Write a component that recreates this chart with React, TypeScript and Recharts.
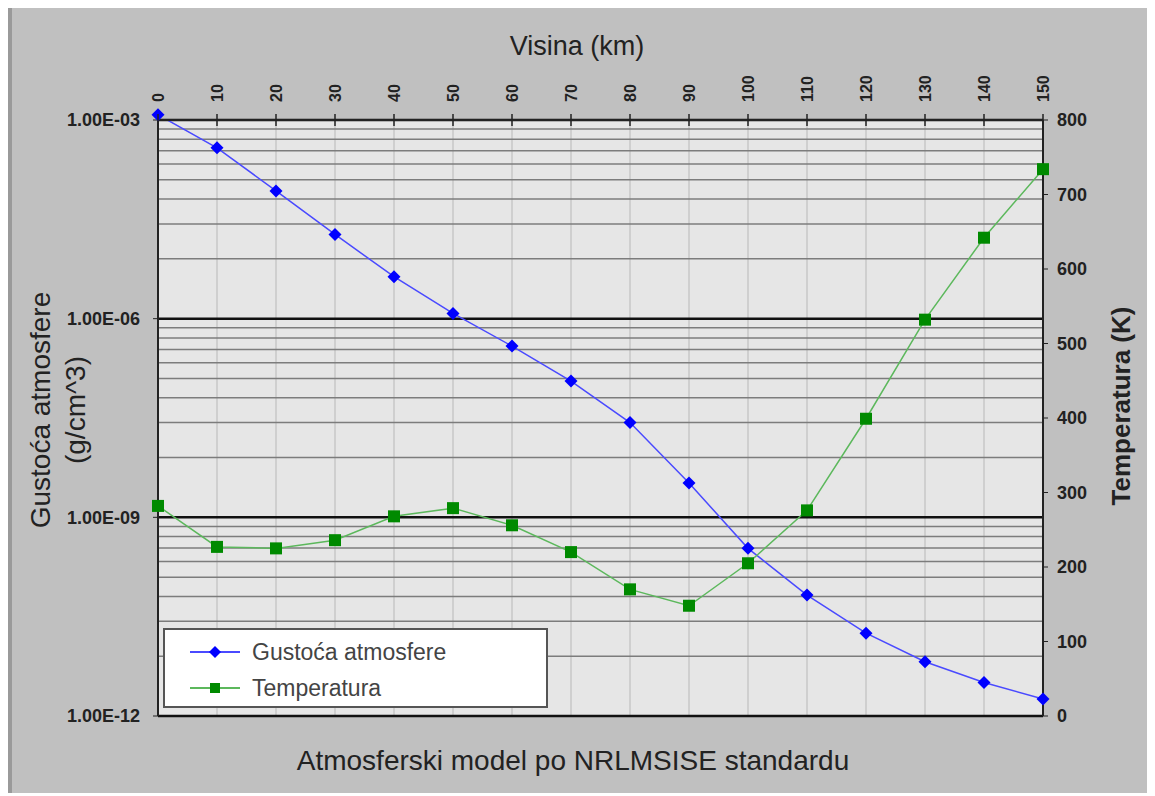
import React from 'react';
import {
  LineChart,
  Line,
  XAxis,
  YAxis,
  CartesianGrid,
  ReferenceLine,
  ReferenceDot,
  Legend,
} from 'recharts';

// ---------- data ----------
const altitudes = [0, 10, 20, 30, 40, 50, 60, 70, 80, 90, 100, 110, 120, 130, 140, 150];
const density = [
  1.2e-3, 3.8e-4, 8.5e-5, 1.87e-5, 4.3e-6, 1.2e-6, 3.85e-7, 1.14e-7, 2.7e-8, 3.3e-9,
  3.4e-10, 6.7e-11, 1.78e-11, 6.6e-12, 3.2e-12, 1.8e-12,
];
const temperature = [282, 227, 225, 236, 268, 279, 256, 220, 170, 148, 205, 276, 399, 532, 642, 734];

const densityTicks = [1e-12, 1e-9, 1e-6, 1e-3];
const temperatureTicks = [0, 100, 200, 300, 400, 500, 600, 700, 800];
const minorBases = [1e-12, 1e-9, 1e-6];
const minorMultipliers = [8, 27, 64, 125, 216, 343, 512, 729];

const densityName = 'Gustoća atmosfere';
const temperatureName = 'Temperatura';

const data = altitudes.map((a, i) => ({ alt: a, density: density[i], temperature: temperature[i] }));
const minorLines = minorBases.flatMap((b) => minorMultipliers.map((m) => b * m));

// ---------- styling ----------
const FONT = '"Liberation Sans", Arial, Helvetica, sans-serif';
const BLUE_LINE = '#4a4aff';
const BLUE_MARK = '#0000ff';
const GREEN_LINE = '#5cb85c';
const GREEN_MARK = '#008a00';
const TEXT = '#222';

const fmtExp = (v: number) => {
  const e = Math.round(Math.log10(v));
  const m = v / Math.pow(10, e);
  const sign = e < 0 ? '-' : '+';
  const abs = Math.abs(e);
  return `${m.toFixed(2)}E${sign}${abs < 10 ? '0' + abs : abs}`;
};

const TopTick = (props: any) => {
  const { x, y, payload } = props;
  return (
    <g>
      <line x1={x} x2={x} y1={y + 12} y2={y + 24} stroke="#222" strokeWidth={1.5} />
      <text
        x={x}
        y={y}
        transform={`rotate(-90, ${x}, ${y})`}
        textAnchor="start"
        dy="0.36em"
        fontSize={16}
        fontWeight="bold"
        fill={TEXT}
        fontFamily={FONT}
      >
        {payload.value}
      </text>
    </g>
  );
};

const Diamond = (props: any) => {
  const { cx, cy } = props;
  if (cx == null || cy == null) return null;
  const s = 6.5;
  return <path d={`M${cx},${cy - s}L${cx + s},${cy}L${cx},${cy + s}L${cx - s},${cy}Z`} fill={BLUE_MARK} />;
};

const Square = (props: any) => {
  const { cx, cy, index } = props;
  if (cx == null || cy == null) return null;
  const s = 6;
  return <rect key={`sq-${index}`} x={cx - s} y={cy - s} width={2 * s} height={2 * s} fill={GREEN_MARK} />;
};

const TitlesX = () => (
  <g fontFamily={FONT} fill={TEXT}>
    <text x={569} y={47} textAnchor="middle" fontSize={27} fill={TEXT}>
      Visina (km)
    </text>
    <text x={565} y={762} textAnchor="middle" fontSize={28} fill={TEXT}>
      Atmosferski model po NRLMSISE standardu
    </text>
  </g>
);

const TitleLeft = () => (
  <g fontFamily={FONT}>
    <text
      x={32}
      y={402}
      transform="rotate(-90, 32, 402)"
      textAnchor="middle"
      dominantBaseline="central"
      fontSize={28}
      fill={TEXT}
    >
      Gustoća atmosfere
    </text>
    <text
      x={67}
      y={402}
      transform="rotate(-90, 67, 402)"
      textAnchor="middle"
      dominantBaseline="central"
      fontSize={28}
      fill={TEXT}
    >
      (g/cm^3)
    </text>
  </g>
);

const TitleRight = () => (
  <text
    x={1113}
    y={398}
    transform="rotate(-90, 1113, 398)"
    textAnchor="middle"
    dominantBaseline="central"
    fontSize={26}
    fontWeight="bold"
    fill={TEXT}
    fontFamily={FONT}
  >
    Temperatura (K)
  </text>
);

const LegendBox = (props: any) => {
  const items: any[] = props.payload || [];
  return (
    <div
      style={{
        position: 'relative',
        width: 385,
        height: 80,
        boxSizing: 'border-box',
        background: '#fff',
        border: '2px solid #555',
        fontFamily: FONT,
      }}
    >
      {items.map((it, i) => {
        const isDensity = it.dataKey === 'density';
        const cy = i === 0 ? 22 : 58;
        return (
          <div key={i}>
            <svg
              width={70}
              height={20}
              style={{ position: 'absolute', left: 20, top: cy - 10 }}
            >
              <line x1={5} x2={55} y1={10} y2={10} stroke={isDensity ? BLUE_LINE : GREEN_LINE} strokeWidth={2} />
              {isDensity ? (
                <path d="M30,4L36,10L30,16L24,10Z" fill={BLUE_MARK} />
              ) : (
                <rect x={25} y={5} width={10} height={10} fill={GREEN_MARK} />
              )}
            </svg>
            <span
              style={{
                position: 'absolute',
                left: 87,
                top: cy - 14,
                fontSize: 23,
                lineHeight: '28px',
                color: '#444',
                whiteSpace: 'nowrap',
              }}
            >
              {it.value}
            </span>
          </div>
        );
      })}
    </div>
  );
};

export default function App() {
  return (
    <div style={{ position: 'relative', width: 1147, height: 785, background: '#c0c0c0' }}>
      <div style={{ position: 'absolute', left: 0, top: 0, width: 4, height: 785, background: '#9a9a9a' }} />
      <div style={{ position: 'absolute', left: 0, top: 0 }}>
        <LineChart
          width={1147}
          height={785}
          data={data}
          margin={{ top: 62, right: 0, bottom: 77, left: 0 }}
        >
          <CartesianGrid
            yAxisId="left"
            horizontal={false}
            vertical
            stroke="#b8b8b8"
            strokeWidth={1}
            fill="#e6e6e6"
            fillOpacity={1}
          />
          <XAxis
            dataKey="alt"
            type="number"
            orientation="top"
            domain={[0, 150]}
            ticks={altitudes}
            interval={0}
            height={50}
            tickSize={6}
            tickMargin={12}
            tickLine={false}
            axisLine={{ stroke: '#222', strokeWidth: 2 }}
            tick={<TopTick />}
            label={TitlesX}
          />
          <YAxis
            yAxisId="left"
            scale="log"
            domain={[1e-12, 1e-3]}
            allowDataOverflow
            ticks={densityTicks}
            interval={0}
            tickFormatter={fmtExp}
            width={150}
            tickSize={5}
            tickMargin={13}
            tickLine={{ stroke: '#222' }}
            axisLine={{ stroke: '#222', strokeWidth: 2 }}
            tick={{ fontSize: 18, fontWeight: 'bold', fill: TEXT, fontFamily: FONT }}
            label={TitleLeft}
          />
          <YAxis
            yAxisId="right"
            orientation="right"
            domain={[0, 800]}
            ticks={temperatureTicks}
            interval={0}
            width={112}
            tickSize={5}
            tickMargin={9}
            tickLine={{ stroke: '#222' }}
            axisLine={{ stroke: '#222', strokeWidth: 2 }}
            tick={{ fontSize: 18, fontWeight: 600, fill: TEXT, fontFamily: FONT }}
            label={TitleRight}
          />
          {minorLines.map((v, i) => (
            <ReferenceLine
              key={`minor-${i}`}
              yAxisId="left"
              y={v}
              stroke="#7c7c7c"
              strokeWidth={1.5}
              ifOverflow="visible"
              zIndex={-50}
            />
          ))}
          {densityTicks.map((v, i) => (
            <ReferenceLine
              key={`major-${i}`}
              yAxisId="left"
              y={v}
              stroke="#111"
              strokeWidth={2.5}
              ifOverflow="visible"
              zIndex={-40}
            />
          ))}
          <Line
            yAxisId="left"
            dataKey="density"
            name={densityName}
            stroke={BLUE_LINE}
            strokeWidth={1.5}
            dot={false}
            activeDot={false}
            isAnimationActive={false}
          />
          <Line
            yAxisId="right"
            dataKey="temperature"
            name={temperatureName}
            stroke={GREEN_LINE}
            strokeWidth={1.5}
            dot={Square}
            activeDot={false}
            isAnimationActive={false}
          />
          {altitudes.map((a, i) => (
            <ReferenceDot
              key={`dd-${i}`}
              yAxisId="left"
              x={a}
              y={density[i]}
              r={6}
              ifOverflow="visible"
              shape={Diamond}
            />
          ))}
          <Legend
            layout="vertical"
            align="center"
            verticalAlign="middle"
            content={LegendBox}
            wrapperStyle={{ left: 155, top: 620, width: 385, height: 80 }}
          />
        </LineChart>
      </div>
    </div>
  );
}
